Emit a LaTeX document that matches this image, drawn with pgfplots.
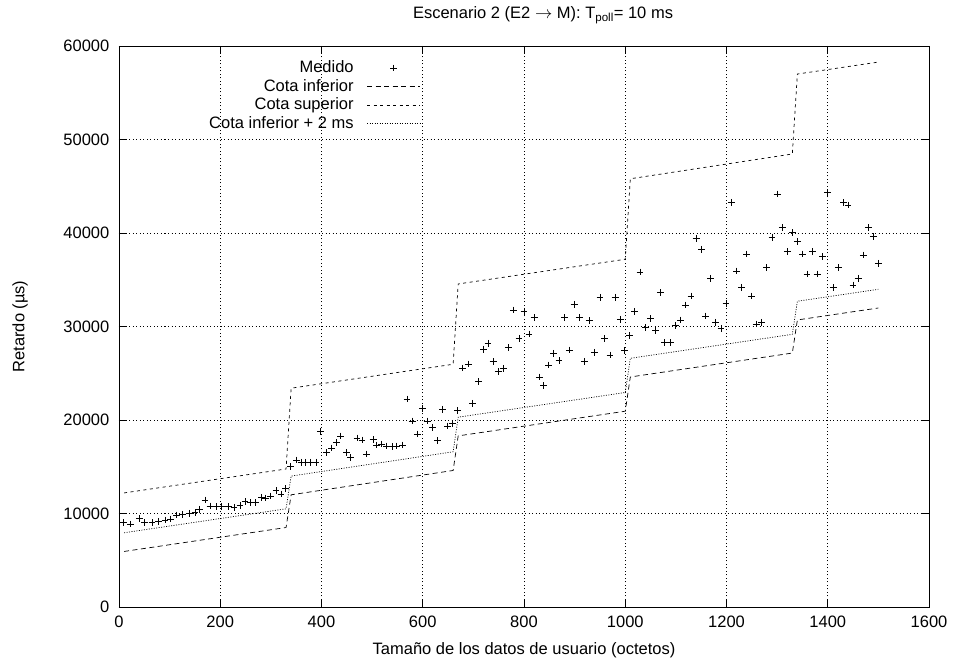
\documentclass[border=0pt]{standalone}
\usepackage{fontspec}
\setmainfont{Liberation Sans}
\usepackage{pgfplots}
\pgfplotsset{compat=1.18}
\begin{document}
\fontsize{16.5}{19}\selectfont
\begin{tikzpicture}
\path[use as bounding box] (-119pt,-61pt) rectangle (838pt,607pt);
\begin{axis}[
 scale only axis, width=810pt, height=561pt,
 xmin=0, xmax=1600, ymin=0, ymax=60000,
 xtick={0,200,...,1600}, ytick={0,10000,...,60000},
 scaled ticks=false,
 /pgf/number format/assume math mode=true,
 /pgf/number format/1000 sep={},
 tick align=inside, major tick length=7pt,
 grid=major, grid style={black, line width=0.6pt, dash pattern=on 1pt off 2.5pt},
 axis line style={line width=0.9pt},
 tick style={black, line width=0.9pt},
 yticklabel style={xshift=-4pt},
 xticklabel style={yshift=-3pt},
 xlabel={Tamaño de los datos de usuario (octetos)},
 ylabel={Retardo (µs)},
 title={Escenario 2 (E2 $\rightarrow$ M): T\textsubscript{poll}= 10 ms},
 every axis title/.style={at={(axis description cs:0.5235,1.0553)}, anchor=center},
 every axis x label/.style={at={(axis description cs:0.5,-0.0766)}, anchor=center},
 every axis y label/.style={at={(axis description cs:-0.1222,0.5)}, rotate=90, anchor=center},
 legend style={draw=none, fill=none, at={(axis description cs:0.376,0.981)}, anchor=north east, row sep=0pt, column sep=11pt},
 legend cell align=right,
 legend plot pos=right,
 legend image code/.code={\draw[mark repeat=2,mark phase=2,#1] plot coordinates {(0pt,0pt) (26.5pt,0pt) (53pt,0pt)};},
]
\addplot[only marks, mark=+, mark size=3.4pt, line width=0.8pt] coordinates {
(9,9020)(23,8880)(40,9480)(51,9020)(65,9020)(78,9130)(91,9300)(102,9410)(114,9840)(126,9910)
(139,10020)(150,10090)(159,10450)(170,11440)(180,10800)(192,10730)(203,10730)(216,10730)(227,10660)(239,10870)
(249,11260)(259,11160)(269,11160)(282,11730)(290,11660)(300,11870)(310,12440)(320,12090)(329,12650)
(339,15010)(350,15720)(360,15470)(369,15470)(379,15470)(389,15470)(398,18790)(410,16500)(420,17000)(429,17580)
(438,18290)(450,16500)(458,16010)(470,18070)(480,17860)(489,16360)(502,17900)(509,17330)(519,17430)(529,17220)
(540,17150)(548,17220)(560,17330)(569,22250)(579,19890)(589,18500)(600,21250)(609,19890)(620,19220)(629,17790)
(639,21140)(649,19360)(659,19650)(669,21000)
(679,25560)(690,25990)(699,21790)(710,24100)(720,27560)(729,28200)(739,26240)(749,25170)(759,25530)(769,27760)
(779,31760)(790,28740)(800,31590)(810,29200)(820,30940)(830,24600)(839,23700)(849,25880)(859,27130)(869,26340)
(880,30940)(890,27490)(899,32370)(909,30940)(919,26240)(929,30620)(939,27240)(950,33120)(959,28740)(970,26950)
(980,33120)(990,30770)(999,27420)
(1009,29000)(1019,31590)(1029,35830)(1040,29890)(1050,30850)(1060,29550)(1070,33620)(1078,28270)(1090,28270)(1100,30120)
(1109,30700)(1119,32300)(1130,33260)(1140,39430)(1151,38260)(1159,31120)(1169,35150)(1179,30450)(1189,29800)(1199,32480)
(1210,43280)(1220,35940)(1230,34190)(1240,37750)(1250,33260)(1259,30270)(1269,30450)(1279,36310)(1290,39500)(1300,44170)
(1310,40570)(1320,38000)(1330,40030)
(1340,39070)(1350,37750)(1359,35610)(1370,38000)(1379,35610)(1390,37470)(1400,44310)(1411,34150)(1421,36290)(1431,43240)
(1440,42990)(1450,34440)(1460,35150)(1470,37650)(1480,40570)(1490,39610)(1500,36760)
};
\addlegendentry{Medido}
\addplot[line width=0.7pt, dash pattern=on 5pt off 3.5pt] coordinates {
(10,5940)(330,8500)(340,12000)(660,14600)(670,18300)(1000,20940)(1010,24600)(1330,27160)(1340,30700)(1500,31980)
};
\addlegendentry{Cota inferior}
\addplot[line width=0.7pt, dash pattern=on 3pt off 3.5pt] coordinates {
(10,12200)(330,14760)(340,23400)(660,25960)(670,34550)(1000,37190)(1010,45800)(1330,48450)(1340,57000)(1500,58280)
};
\addlegendentry{Cota superior}
\addplot[line width=0.7pt, dash pattern=on 1pt off 1.5pt] coordinates {
(10,7940)(330,10500)(340,14000)(660,16600)(670,20300)(1000,22940)(1010,26600)(1330,29160)(1340,32700)(1500,33980)
};
\addlegendentry{Cota inferior + 2 ms}
\end{axis}
\end{tikzpicture}
\end{document}
